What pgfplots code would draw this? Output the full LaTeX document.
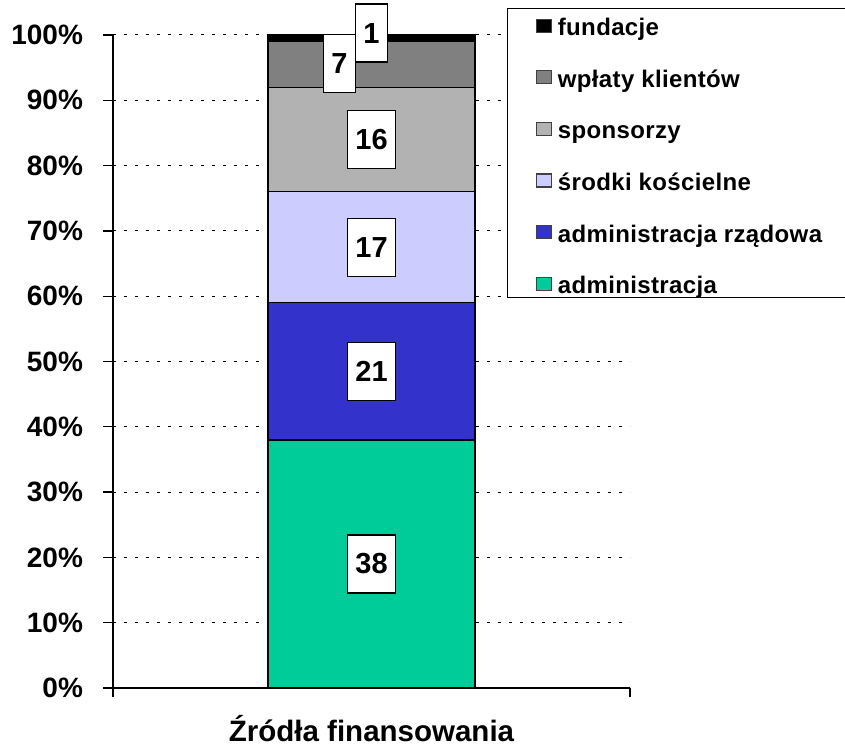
\documentclass[border=0pt]{standalone}
\usepackage{pgfplots}
\pgfplotsset{compat=1.18}
\usepackage{fontspec}
\setmainfont{Liberation Sans}
\newfontfamily\legfont[LetterSpace=1.5]{Liberation Sans}
\definecolor{cAdm}{HTML}{00CC99}
\definecolor{cRzad}{HTML}{3333CC}
\definecolor{cKosc}{HTML}{CCCCFF}
\definecolor{cSpon}{HTML}{B2B2B2}
\definecolor{cWpl}{HTML}{808080}
\definecolor{cFund}{HTML}{000000}
\begin{document}
\begin{tikzpicture}[x=1pt,y=1pt]
\begin{axis}[
  at={(0pt,0pt)}, anchor=south west,
  scale only axis, width=517pt, height=653pt,
  xmin=0, xmax=1, ymin=0, ymax=100,
  axis x line=bottom, axis y line=left,
  axis line style={line width=1.3pt,-},
  ytick={0,10,...,100},
  yticklabel={\pgfmathprintnumber{\tick}\%},
  xtick={0,1}, xticklabels={,},
  tick align=outside, major tick length=9.5pt,
  tick style={line width=1.3pt, black},
  ymajorgrids,
  grid style={dash pattern=on 3pt off 8pt, line width=1pt, black},
  ybar stacked, bar width=207pt,
  ticklabel style={font=\fontsize{28}{30}\selectfont\bfseries},
  yticklabel style={xshift=-17pt},
  /pgf/number format/assume math mode=true,
  xlabel={Źródła finansowania},
  xlabel style={at={(axis description cs:0.5,0)}, anchor=base, yshift=-53pt,
    font=\fontsize{29.5}{32}\selectfont\bfseries},
  reverse legend,
  legend cell align=left,
  legend image code/.code={\draw[#1, draw=black!75, line width=1.2pt] (0pt,-8pt) rectangle (15pt,5pt); \path (19pt,0pt);},
  legend style={at={(axis description cs:0.762,1.0413)}, anchor=north west,
    draw=black, line width=1.3pt, fill=white,
    font=\fontsize{24}{26}\selectfont\bfseries\legfont,
    inner xsep=28pt, inner ysep=2pt, row sep=24.6pt,
    nodes={inner ysep=0pt, inner xsep=2pt, text height=25pt, text depth=2pt}},
]
\addplot[fill=cAdm, draw=black, line width=1.3pt] coordinates {(0.5,38)};
\addlegendentry{\makebox[290pt][l]{administracja}}
\addplot[fill=cRzad, draw=black, line width=1.3pt] coordinates {(0.5,21)};
\addlegendentry{administracja rządowa}
\addplot[fill=cKosc, draw=black, line width=1.3pt] coordinates {(0.5,17)};
\addlegendentry{środki kościelne}
\addplot[fill=cSpon, draw=black, line width=1.3pt] coordinates {(0.5,16)};
\addlegendentry{sponsorzy}
\addplot[fill=cWpl, draw=black, line width=1.3pt] coordinates {(0.5,7)};
\addlegendentry{wpłaty klientów}
\addplot[fill=cFund, draw=black, line width=1.3pt] coordinates {(0.5,1)};
\addlegendentry{fundacje}
\end{axis}
\begin{axis}[
  at={(0pt,0pt)}, anchor=south west,
  scale only axis, width=517pt, height=653pt,
  xmin=0, xmax=1, ymin=0, ymax=100,
  hide axis, clip=false,
]
\addplot[only marks, mark=*, mark size=0pt, mark options={draw=none,fill=none},
  nodes near coords, point meta=explicit symbolic,
  every node near coord/.append style={anchor=center, draw=black, line width=1.3pt,
    fill=white, inner xsep=8pt, inner ysep=0pt, minimum height=58pt,
    font=\fontsize{29}{30}\selectfont\bfseries}]
  coordinates {(0.5,19)[38] (0.5,48.5)[21] (0.5,67.5)[17] (0.5,84)[16] (0.438,95.6)[7] (0.5,100.3)[1]};
\end{axis}
\pgfresetboundingbox
\path[use as bounding box] (-113pt,-58pt) rectangle (732pt,688pt);
\end{tikzpicture}
\end{document}
